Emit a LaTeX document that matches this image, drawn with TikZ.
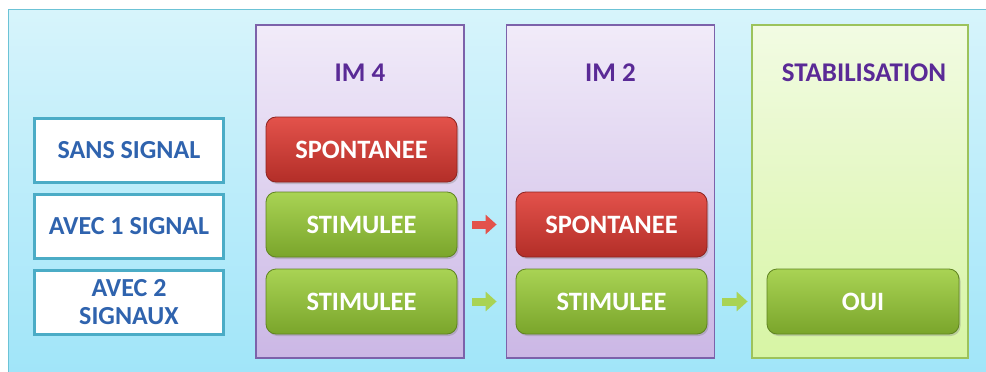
\documentclass[tikz,border=0pt]{standalone}
\usepackage{fontspec}
\setmainfont{Carlito}
\usepackage{xcolor}
\usepackage{tikz}
\usetikzlibrary{
  arrows.meta,
  positioning,
  shadows
}
\definecolor{bgtop}{HTML}{D7F4FB}
\definecolor{bgbot}{HTML}{A0E5F9}
\definecolor{bgline}{HTML}{6CC3D6}
\definecolor{labline}{HTML}{4BACC6}
\definecolor{labtext}{HTML}{2F63AE}
\definecolor{coltop}{HTML}{F1EBF9}
\definecolor{colbot}{HTML}{CBB7E5}
\definecolor{colline}{HTML}{7C62AA}
\definecolor{stabtop}{HTML}{F2FBE3}
\definecolor{stabbot}{HTML}{D7F5A4}
\definecolor{stabline}{HTML}{9CC35C}
\definecolor{headtext}{HTML}{5A2A96}
\definecolor{redtop}{HTML}{E3524B}
\definecolor{redbot}{HTML}{B32E28}
\definecolor{redline}{HTML}{8E2320}
\definecolor{greentop}{HTML}{A9D354}
\definecolor{greenbot}{HTML}{7AA52B}
\definecolor{greenline}{HTML}{5F8420}
\tikzset{
  labelbox/.style={
    draw=labline, fill=white, line width=3pt,
    rectangle, minimum width=189pt, minimum height=64pt,
    inner xsep=2pt, align=center,
    font=\fontsize{26}{28}\selectfont\bfseries,
    text=labtext
  },
  colbox/.style={
    draw=colline, top color=coltop, bottom color=colbot,
    rectangle, line width=1.2pt,
    minimum width=208pt, minimum height=333pt
  },
  stabbox/.style={
    colbox, draw=stabline, top color=stabtop, bottom color=stabbot
  },
  headlabel/.style={
    font=\fontsize{27}{30}\selectfont\bfseries, text=headtext
  },
  redblock/.style={
    draw=redline, top color=redtop, bottom color=redbot,
    rectangle, rounded corners=10pt, line width=0.8pt,
    minimum width=191pt, minimum height=65pt,
    font=\fontsize{26.5}{28}\selectfont\bfseries, text=white,
    drop shadow={shadow xshift=1.5pt, shadow yshift=-2pt, opacity=.35}
  },
  greenblock/.style={
    redblock, draw=greenline, top color=greentop, bottom color=greenbot
  },
  redarrow/.style={
    -{Triangle[width=19pt, length=11pt]}, line width=8pt, draw=redtop,
    shorten <=15pt, shorten >=19pt
  },
  greenarrow/.style={
    redarrow, draw=greentop
  }
}
\begin{document}
\begin{tikzpicture}[x=1pt, y=-1pt]
  \useasboundingbox (0,0) rectangle (986,372);
  \draw[bgline, top color=bgtop, bottom color=bgbot] (8,9) rectangle (990,376);

  % rows
  \node[labelbox] (sans) at (129,150.5) {SANS SIGNAL};
  \node[labelbox] (un) at (129,226) {AVEC 1 SIGNAL};
  \node[labelbox] (deux) at (129,302.5) {AVEC 2\\SIGNAUX};

  % columns
  \node[colbox] (im4) at (360,191.5) {};
  \node[colbox] (im2) at (610.5,191.5) {};
  \node[stabbox, minimum width=216pt] (stab) at (860,191.5) {};
  \node[headlabel] at (360,73) {IM 4};
  \node[headlabel] at (610.5,73) {IM 2};
  \node[headlabel] at (864,73) {STABILISATION};

  \node[redblock] (spA) at (361.5,149.5) {SPONTANEE};
  \node[greenblock] (stA) at (361.5,224.5) {STIMULEE};
  \node[greenblock] (stB) at (361.5,301.5) {STIMULEE};
  \node[redblock] (spC) at (611.5,224.5) {SPONTANEE};
  \node[greenblock] (stC) at (611.5,301.5) {STIMULEE};
  \node[greenblock, minimum width=192pt] (oui) at (863,301.5) {OUI};

  \draw[redarrow] (stA) -- (spC);
  \draw[greenarrow] (stB) -- (stC);
  \draw[greenarrow] (stC) -- (oui);
\end{tikzpicture}
\end{document}
